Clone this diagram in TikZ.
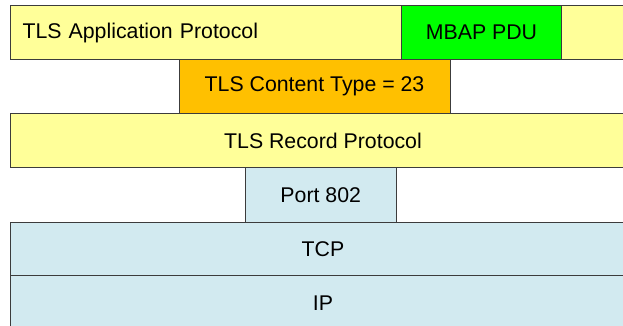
\documentclass[tikz,border=0pt]{standalone}
\usepackage{fontspec}
\setmainfont{Liberation Sans}
\definecolor{layeryellow}{HTML}{FFFF99}
\definecolor{pdugreen}{HTML}{00FF00}
\definecolor{typeorange}{HTML}{FFC000}
\definecolor{portblue}{HTML}{D2EAF0}
\definecolor{edge}{HTML}{3C3C3C}
\begin{document}
\begin{tikzpicture}[x=1pt,y=-1pt,
  layer/.style={draw=edge, line width=1pt, anchor=north west, inner sep=0pt,
    font=\fontsize{21.3}{25}\selectfont},
  yellowlayer/.style={layer, fill=layeryellow},
  bluelayer/.style={layer, fill=portblue}]
  \useasboundingbox (0,0) rectangle (623,326);
  \clip (0,0) rectangle (623,326);
  % application layer, text on the left
  \node[yellowlayer, minimum width=630pt, minimum height=54pt,
        text width=606pt, align=left] (app) at (10,5) {TLS Application Protocol};
  \node[layer, fill=pdugreen, minimum width=160pt, minimum height=54pt] (pdu) at (401,5) {MBAP PDU};
  \node[layer, fill=typeorange, minimum width=271pt, minimum height=54pt] (ctype) at (178.5,59) {TLS Content Type = 23};
  % wide layers run past the right edge; their text sits at x = 322
  \node[yellowlayer, minimum width=630pt, minimum height=54pt] (record) at (9.5,113) {\hspace*{-4pt}TLS Record Protocol};
  \node[bluelayer, minimum width=150.5pt, minimum height=54.5pt] (port) at (245,167) {Port 802};
  \node[bluelayer, minimum width=630pt, minimum height=53.5pt] (tcp) at (9.5,221.5) {\hspace*{-4pt}TCP};
  \node[bluelayer, minimum width=630pt, minimum height=60pt] (ip) at (9.5,275) {\hspace*{-4pt}\raisebox{4pt}{IP}};
\end{tikzpicture}
\end{document}
